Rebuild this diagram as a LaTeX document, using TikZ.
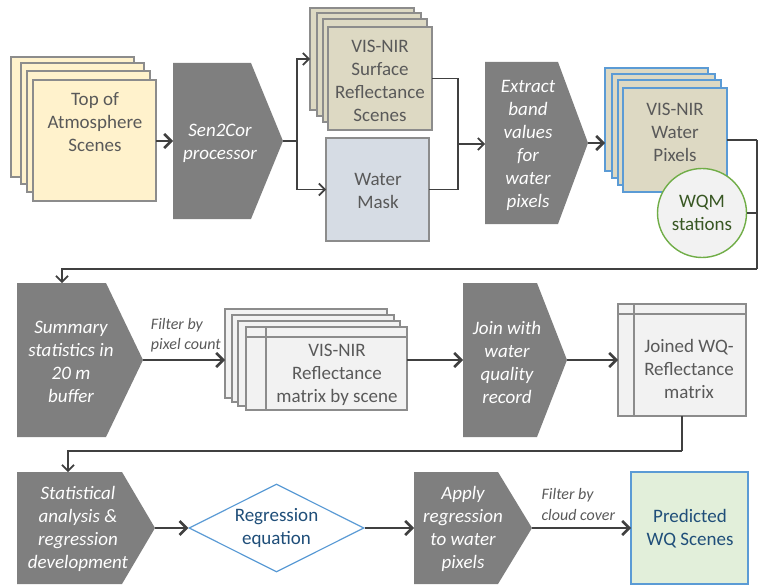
\documentclass[tikz,border=0pt]{standalone}
\usepackage{fontspec}
\setmainfont{Carlito}
\usetikzlibrary{arrows.meta,shapes.geometric,calc}

\definecolor{procgray}{HTML}{7F7F7F}
\definecolor{inkgray}{HTML}{595959}
\definecolor{linegray}{HTML}{404040}
\definecolor{edgegray}{HTML}{8C8C8C}
\definecolor{toafill}{HTML}{FFF2CC}
\definecolor{tanfill}{HTML}{DDD9C3}
\definecolor{maskfill}{HTML}{D6DCE4}
\definecolor{matfill}{HTML}{F2F2F2}
\definecolor{accentblue}{HTML}{5B9BD5}
\definecolor{navytext}{HTML}{1F4E79}
\definecolor{stationgreen}{HTML}{70AD47}
\definecolor{stationtext}{HTML}{385723}
\definecolor{predfill}{HTML}{E2EFDA}

% rectangle node given by its corners (x1,y1) (x2,y2)
\newcommand\cornerbox[6]{%
  \node[#6, minimum width={#4-#2}, minimum height={#5-#3}] (#1) at ({(#2+#4)/2},{(#3+#5)/2}) {};}
% process step: rectangle whose right side ends in a point
\newcommand\procshape[6]{%
  \node[procbox, minimum width={#4-#2}, minimum height={#5-#3}] (#1) at ({(#2+#4)/2},{(#3+#5)/2}) {};
  \fill[procgray] (#1.north west) -- ([xshift=-#6pt]#1.north east) -- (#1.east)
    -- ([xshift=-#6pt]#1.south east) -- (#1.south west) -- cycle;}

\tikzset{
  base/.style={rectangle, inner sep=0pt, outer sep=0pt},
  procbox/.style={base, draw=none},
  proctext/.style={align=center, text=white, font=\fontsize{19}{23}\selectfont\itshape},
  boxtext/.style={align=center, text=inkgray, font=\fontsize{19}{23}\selectfont},
  edgetext/.style={align=left, anchor=west, text=inkgray, font=\fontsize{16}{20.5}\selectfont\itshape},
  toasheet/.style={base, draw=edgegray, line width=1.2pt, fill=toafill},
  tansheet/.style={base, draw=edgegray, line width=1.2pt, fill=tanfill},
  pixsheet/.style={base, draw=accentblue, line width=1.2pt, fill=tanfill},
  masksheet/.style={base, draw=edgegray, line width=1.2pt, fill=maskfill},
  matsheet/.style={base, draw=edgegray, line width=1.2pt, fill=matfill},
  predsheet/.style={base, draw=accentblue, line width=1.2pt, fill=predfill},
  flow/.style={draw=linegray, line width=2.6pt, -{Straight Barb[length=7pt,width=14pt]}},
  link/.style={draw=linegray, line width=1.7pt},
  linkarrow/.style={link, -{Straight Barb[length=6pt,width=12pt]}},
}

\begin{document}
\begin{tikzpicture}[x=1pt, y=-1pt]
\useasboundingbox (0,0) rectangle (759,585);

% ---------------- row 1 ----------------
% top-of-atmosphere scene stack
\cornerbox{toa0}{11}{57}{134}{177}{toasheet}
\cornerbox{toa1}{21}{63}{144}{184}{toasheet}
\cornerbox{toa2}{27}{71}{150}{192}{toasheet}
\cornerbox{toa}{33}{80}{156}{201}{toasheet}
\node[boxtext] (toa-t) at (95,122) {Top of\\Atmosphere\\Scenes};

\procshape{sen}{173}{63}{283}{219}{32}
\node[proctext] (sen-t) at (220,143) {Sen2Cor\\processor};

% surface reflectance stack
\cornerbox{surf0}{310}{8}{414}{110}{tansheet}
\cornerbox{surf1}{317}{13}{421}{116}{tansheet}
\cornerbox{surf2}{323}{19}{427}{122}{tansheet}
\cornerbox{surf}{328}{27}{432}{130}{tansheet}
\node[boxtext] (surf-t) at (380,81) {VIS-NIR\\Surface\\Reflectance\\Scenes};

\cornerbox{mask}{326}{138}{429}{241}{masksheet}
\node[boxtext] (mask-t) at (378,191) {Water\\Mask};

\procshape{ext}{485}{62}{588}{224}{30}
\node[proctext] (ext-t) at (528,145) {Extract\\band\\values\\for\\water\\pixels};

% water pixel stack
\cornerbox{pix0}{605}{68}{708}{171}{pixsheet}
\cornerbox{pix1}{612}{74}{715}{178}{pixsheet}
\cornerbox{pix2}{618}{80}{721}{185}{pixsheet}
\cornerbox{pix}{623}{88}{727}{192}{pixsheet}
\node[boxtext] (pix-t) at (675,132) {VIS-NIR\\Water\\Pixels};

\node[circle, draw=stationgreen, line width=1.4pt, fill=matfill, minimum size=89pt,
      inner sep=0pt, align=center, text=stationtext,
      font=\fontsize{19}{23}\selectfont] (wqm) at (702,213) {WQM\\stations};

% connectors, row 1
\draw[flow] (toa.east |- sen.west) -- (sen.west);
\coordinate (fork) at (297,141);
\draw[link] (sen.east) -- (fork);
\draw[linkarrow] (fork) |- (surf0.west);
\draw[linkarrow] (fork) |- (mask.west);
\coordinate (merge) at (458,144);
\draw[link] (surf.east) -| (merge);
\draw[link] (mask.east) -| (merge);
\draw[linkarrow] (merge) -- (ext.west |- merge);
\draw[flow] (ext.east) -- (pix0.west |- ext.east);

\coordinate (rtop) at (757,140);
\coordinate (rbot) at (757,269);
\draw[link] (pix.east) -- (rtop);
\draw[link] (wqm.east) -- (rtop |- wqm.east);
\draw[link] (rtop) -- (rbot);

% ---------------- row 2 ----------------
\procshape{sum}{17}{283}{143}{437}{37}
\node[proctext] (sum-t) at (71,362) {Summary\\statistics in\\20 m\\buffer};

\draw[linkarrow] (rbot) -| ([xshift=-18pt]sum.north);

% reflectance matrix stack
\cornerbox{mat0}{225}{309}{387}{398}{matsheet}
\cornerbox{mat1}{232}{315}{394}{402}{matsheet}
\cornerbox{mat2}{238}{321}{400}{406}{matsheet}
\cornerbox{mat}{246}{327}{407}{410}{matsheet}
\draw[edgegray, line width=1.2pt] ([xshift=20pt]mat.north west) -- ([xshift=20pt]mat.south west);
\draw[edgegray, line width=1.2pt] ([yshift=-10pt]mat.north west) -- ([yshift=-10pt]mat.north east);
\node[boxtext] (mat-t) at (337,375) {VIS-NIR\\Reflectance\\matrix by scene};

\procshape{join}{463}{283}{567}{437}{30}
\node[proctext] (join-t) at (507,362) {Join with\\water\\quality\\record};

\cornerbox{jmat}{618}{304}{746}{416}{matsheet}
\draw[edgegray, line width=1.2pt] ([xshift=16pt]jmat.north west) -- ([xshift=16pt]jmat.south west);
\draw[edgegray, line width=1.2pt] ([yshift=-10pt]jmat.north west) -- ([yshift=-10pt]jmat.north east);
\node[boxtext] (jmat-t) at (689,369) {Joined WQ-\\Reflectance\\matrix};

\draw[flow] (sum.east) -- (mat0.west |- sum.east)
  node[edgetext, pos=0.04, above=3pt, anchor=south west] (filt1) {Filter by\\pixel count};
\draw[flow] (mat.east |- join.west) -- (join.west);
\draw[flow] (join.east) -- (jmat.west |- join.east);

% ---------------- row 3 ----------------
\procshape{stat}{17}{472}{155}{584}{33}
\node[proctext] (stat-t) at (78,529) {Statistical\\analysis \&\\regression\\development};

\coordinate (turn) at (682,451);
\draw[link] (jmat.south) -- (turn);
\draw[linkarrow] (turn) -| ([xshift=-18pt]stat.north);

\node[diamond, draw=accentblue, line width=1.2pt, fill=white, aspect=2,
      minimum width=175pt, minimum height=88pt, inner sep=0pt, align=center,
      text=navytext, font=\fontsize{19}{23}\selectfont] (eq) at (276.5,528) {Regression\\equation};

\procshape{apply}{414}{472}{532}{584}{34}
\node[proctext] (apply-t) at (463,529) {Apply\\regression\\to water\\pixels};

\cornerbox{pred}{631}{472}{748}{584}{predsheet}
\node[boxtext, text=navytext] (pred-t) at (690,529) {Predicted\\WQ Scenes};

\draw[flow] (stat.east) -- (eq.west);
\draw[flow] (eq.east) -- (apply.west);
\draw[flow] (apply.east) -- (pred.west)
  node[edgetext, pos=0.05, above=3pt, anchor=south west] (filt2) {Filter by\\cloud cover};
\end{tikzpicture}
\end{document}
